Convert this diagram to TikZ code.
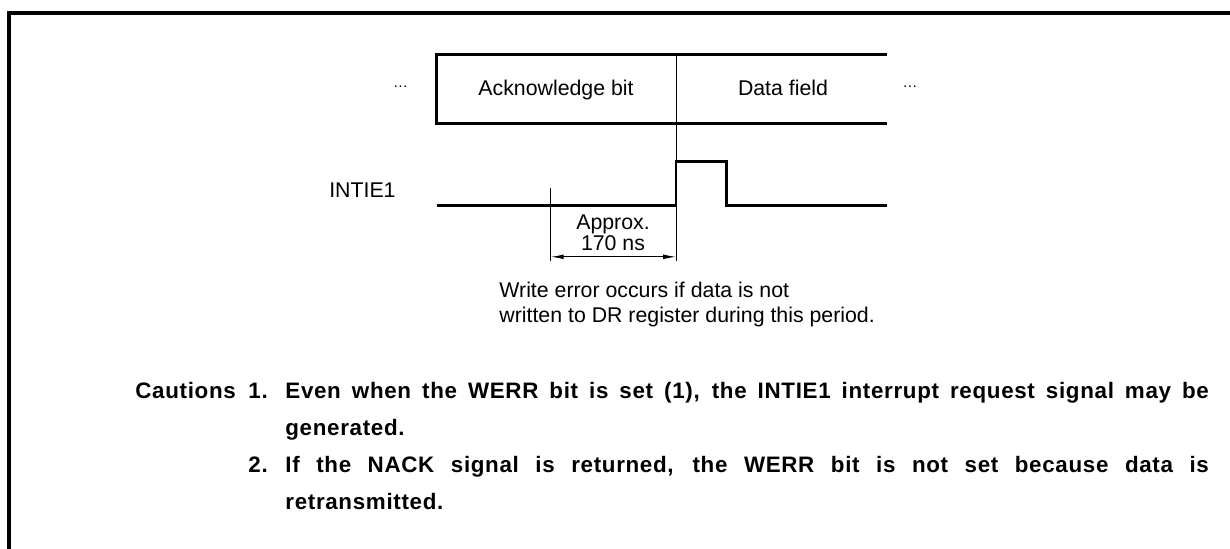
\documentclass[tikz,border=0pt]{standalone}
\usepackage{fontspec}
\setmainfont{Liberation Sans}
\newfontfamily\cautionfont[LetterSpace=3]{Liberation Sans}
\usetikzlibrary{arrows.meta, calc}
\hyphenpenalty=10000

\begin{document}
\begin{tikzpicture}[
    x=0.0165cm, y=-0.0165cm,
    >={Latex[length=6pt,width=2.2pt]},
    % Styles
    frame/.style={draw, line width=1.6pt},
    field/.style={draw, line width=1.1pt},
    signal/.style={draw, line width=1.1pt},
    guide/.style={draw, line width=0.45pt},
    txt/.style={font=\normalsize, inner sep=0pt},
    gap/.style={font=\fontsize{7}{8}\selectfont, inner sep=0pt},
    caution/.style={font=\cautionfont\fontsize{10.5}{17.4}\selectfont\bfseries, inner sep=0pt},
    cautiontext/.style={caution, text width=433.4pt, align=justify}
  ]

    % --- Page frame ---
    \useasboundingbox (0,0) rectangle (1230,549);
    \draw[frame] (9,549) -- (9,13) -- (1230,13);

    % --- Field box ---
    \coordinate (boxTL) at (436.5,54.5);
    \coordinate (boxBL) at (436.5,123.5);
    \coordinate (boxTR) at (886.7,54.5);
    \coordinate (boxBR) at (886.7,123.5);
    \coordinate (edgeTop) at (676,54.5);
    \coordinate (edgeBot) at (676,261);
    \draw[field] (boxTR) -- (boxTL) -- (boxBL) -- (boxBR);
    \draw[guide] (edgeTop) -- (edgeBot);
    \node (ack)  [txt, anchor=base] at (556,96) {Acknowledge bit};
    \node (data) [txt, anchor=base] at (783,96) {Data field};
    \node (gapL) [gap] at (400.5,87) {…};
    \node (gapR) [gap] at (910,87) {…};

    % --- INTIE1 signal ---
    \node (intie) [txt, anchor=base east] at (396,197) {INTIE1};
    \coordinate (sigL) at (436.5,205.5);
    \coordinate (rise) at (676,205.5);
    \coordinate (fall) at (726.5,205.5);
    \coordinate (sigR) at (886.7,205.5);
    \draw[signal] (sigL) -- (rise) -- ++(0,-44) -| (fall) -- (sigR);

    % --- Timing ---
    \coordinate (tickTop) at (550.8,188.3);
    \coordinate (tickBot) at (550.8,261);
    \draw[guide] (tickTop) -- (tickBot);
    \draw[guide, <->] ($(tickBot)+(0,-4.2)$) -- ($(edgeBot)+(0,-4.2)$);
    \node (approx) [txt, anchor=base] at (613,229) {Approx.};
    \node (ns)     [txt, anchor=base] at (613,250) {170 ns};

    % --- Note ---
    \node (note1) [txt, anchor=base west] at (499,297) {Write error occurs if data is not};
    \node (note2) [txt, anchor=base west] at (499,322.5) {written to DR register during this period.};

    % --- Cautions ---
    \node (caut) [caution, anchor=base west] at (135,398) {Cautions};
    \node (num1) [caution, anchor=base west] at (248,398) {1.};
    \node (item1) [cautiontext, anchor=base west] at (285,398)
        {Even when the WERR bit is set (1), the INTIE1 interrupt request signal may be\linebreak generated.\par};
    \node (num2) [caution, anchor=base west] at (248,472) {2.};
    \node (item2) [cautiontext, anchor=base west] at (285,472)
        {If the NACK signal is returned, the WERR bit is not set because data is\linebreak retransmitted.\par};

  \end{tikzpicture}
\end{document}
